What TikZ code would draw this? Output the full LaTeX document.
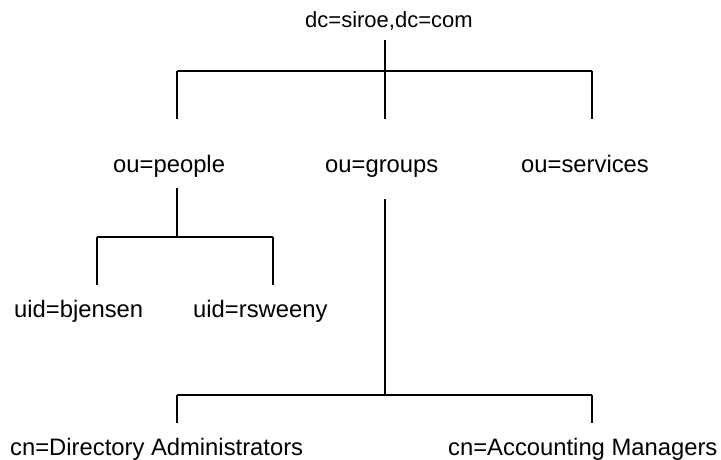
\documentclass[tikz,border=0pt]{standalone}
\usepackage{fontspec}
\setmainfont{Liberation Sans}
\usepackage{tikz}
\usetikzlibrary{positioning}
\tikzset{
entry/.style={inner sep=0pt, anchor=base west, font=\fontsize{23.8}{28}\selectfont},
top entry/.style={entry, font=\fontsize{22}{26}\selectfont},
branch/.style={draw=black, line width=2pt, line cap=butt}
}
\begin{document}
\begin{tikzpicture}[x=1pt,y=-1pt]
\useasboundingbox (0,0) rectangle (721,459);
\node[top entry] (root) at (305,27) {dc=siroe,dc=com};
\node[entry] (people) at (113,172) {ou=people};
\node[entry] (groups) at (325,172) {ou=groups};
\node[entry] (services) at (521,172) {ou=services};
\node[entry] (bjensen) at (14,317) {uid=bjensen};
\node[entry] (rsweeny) at (193,317) {uid=rsweeny};
\node[entry] (diradm) at (10,455) {cn=Directory Administrators};
\node[entry] (accmgr) at (448,455) {cn=Accounting Managers};
% junctions
\coordinate (jroot) at (385,71);
\coordinate (jpeople) at (177,237);
\coordinate (jgroups) at (385,395);
% root level
\draw[branch] (jroot |- 0,40) -- (jroot);
\draw[branch] (177,71) -- (592,71);
\foreach \x in {177,385,592}{
\draw[branch] (\x,71) -- (\x,119);
}
% people
\draw[branch] (jpeople |- 0,188) -- (jpeople);
\draw[branch] (97,237) -- (273,237);
\foreach \x in {97,273}{
\draw[branch] (\x,237) -- (\x,285);
}
% groups
\draw[branch] (jgroups |- 0,199) -- (jgroups);
\draw[branch] (177,395) -- (592,395);
\foreach \x in {177,592}{
\draw[branch] (\x,395) -- (\x,423);
}
\end{tikzpicture}
\end{document}
